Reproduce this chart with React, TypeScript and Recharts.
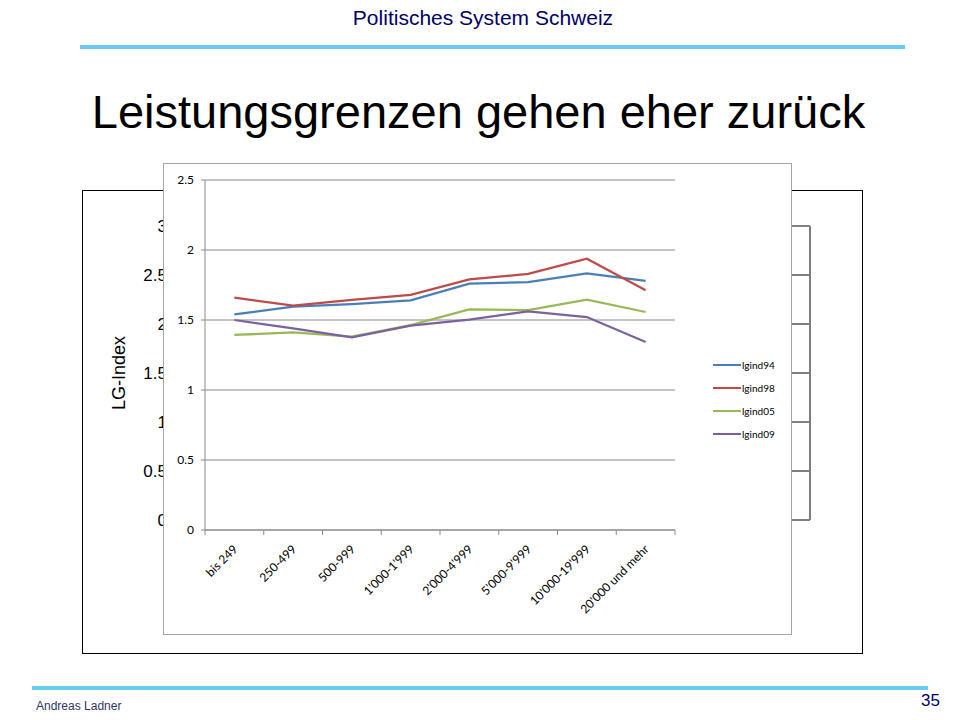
import React from 'react';
import { LineChart, Line, XAxis, YAxis, CartesianGrid } from 'recharts';

const categories = [
  'bis 249',
  '250-499',
  '500-999',
  "1'000-1'999",
  "2'000-4'999",
  "5'000-9'999",
  "10'000-19'999",
  "20'000 und mehr",
];

const lgind94 = [1.54, 1.595, 1.614, 1.64, 1.76, 1.77, 1.833, 1.78];
const lgind98 = [1.66, 1.602, 1.643, 1.679, 1.79, 1.829, 1.938, 1.712];
const lgind05 = [1.393, 1.412, 1.381, 1.464, 1.576, 1.571, 1.645, 1.557];
const lgind09 = [1.5, 1.44, 1.376, 1.46, 1.502, 1.562, 1.521, 1.343];

const innerTicks = [0, 0.5, 1, 1.5, 2, 2.5];
const backTicks = [0, 0.5, 1, 1.5, 2, 2.5, 3];

const series = [
  { key: 'lgind94', color: '#4a7ebb' },
  { key: 'lgind98', color: '#be4b48' },
  { key: 'lgind05', color: '#98b954' },
  { key: 'lgind09', color: '#7d60a0' },
];

const data = categories.map((category, idx) => ({
  idx,
  category,
  lgind94: lgind94[idx],
  lgind98: lgind98[idx],
  lgind05: lgind05[idx],
  lgind09: lgind09[idx],
}));

// tick marks between categories, labels at category centers
const xTicks = [-0.5, ...categories.flatMap((_, i) => [i, i + 0.5])];

const sans = '"Liberation Sans", Arial, sans-serif';
const chartFont = 'Lato, "Open Sans", sans-serif';
const grey = '#898989';

function CategoryTick(props: any) {
  const { x, y, payload } = props;
  const v = payload.value;
  if (!Number.isInteger(v)) {
    return <line x1={x} y1={y} x2={x} y2={y + 5} stroke={grey} strokeWidth={1} />;
  }
  const tx = x + 4;
  const ty = y + 20;
  return (
    <text
      x={tx}
      y={ty}
      transform={`rotate(-45, ${tx}, ${ty})`}
      textAnchor="end"
      fontSize={12}
      fontFamily={chartFont}
      fill="#000"
    >
      {categories[v]}
    </text>
  );
}

function BackLabel(props: any) {
  const vb = props.viewBox;
  const x = vb.x + 36;
  const y = vb.y + vb.height / 2;
  return (
    <text
      x={x}
      y={y}
      transform={`rotate(-90, ${x}, ${y})`}
      textAnchor="middle"
      dominantBaseline="central"
      fontSize={18}
      fontFamily={sans}
      fill="#000"
    >
      LG-Index
    </text>
  );
}

export default function App() {
  return (
    <div
      style={{
        position: 'absolute',
        left: 0,
        top: 0,
        width: 960,
        height: 720,
        background: '#fff',
        overflow: 'hidden',
        fontFamily: sans,
      }}
    >
      <div
        style={{
          position: 'absolute',
          left: 0,
          width: 966,
          top: 6,
          textAlign: 'center',
          fontSize: 21,
          color: '#000066',
        }}
      >
        Politisches System Schweiz
      </div>
      <div style={{ position: 'absolute', left: 80, top: 45, width: 825, height: 4, background: '#6ccaf0' }} />

      <div
        style={{
          position: 'absolute',
          left: 0,
          width: 957,
          top: 84,
          textAlign: 'center',
          fontSize: 47,
          color: '#000',
        }}
      >
        Leistungsgrenzen gehen eher zurück
      </div>

      {/* older chart behind */}
      <div
        style={{
          position: 'absolute',
          left: 82,
          top: 190,
          width: 781,
          height: 464,
          border: '1px solid #000',
          boxSizing: 'border-box',
        }}
      >
        <LineChart width={779} height={462} data={data} margin={{ top: 35, right: 51, left: 0, bottom: 133 }}>
          <CartesianGrid vertical={false} stroke="#000" />
          <XAxis dataKey="category" hide />
          <YAxis
            domain={[0, 3]}
            ticks={backTicks}
            width={97}
            axisLine={false}
            tickLine={false}
            tickSize={0}
            tickMargin={13}
            tick={{ fontSize: 17, fontFamily: sans, fill: '#000' }}
            label={{ content: BackLabel }}
          />
          <YAxis
            yAxisId="r"
            orientation="right"
            domain={[0, 3]}
            width={1}
            tick={false}
            tickLine={false}
            axisLine={{ stroke: '#7f7f7f', strokeWidth: 2 }}
          />
          <Line dataKey="lgind94" stroke="none" dot={false} isAnimationActive={false} />
        </LineChart>
      </div>

      {/* newer chart in front */}
      <div
        style={{
          position: 'absolute',
          left: 163,
          top: 163,
          width: 629,
          height: 472,
          border: '1px solid #a6a6a6',
          boxSizing: 'border-box',
          background: '#fff',
        }}
      >
        <LineChart width={627} height={470} data={data} margin={{ top: 16, right: 116, left: 0, bottom: 0 }}>
          <CartesianGrid vertical={false} stroke={grey} />
          <XAxis
            dataKey="idx"
            type="number"
            domain={[-0.5, 7.5]}
            ticks={xTicks}
            interval={0}
            height={104}
            tickSize={0}
            tickMargin={0}
            tickLine={false}
            axisLine={{ stroke: grey }}
            tick={<CategoryTick />}
          />
          <YAxis
            domain={[0, 2.5]}
            ticks={innerTicks}
            width={41}
            axisLine={{ stroke: grey }}
            tickLine={{ stroke: grey }}
            tickSize={4}
            tickMargin={7}
            tick={{ fontSize: 12, fontFamily: chartFont, fill: '#000' }}
          />
          {series.map((s) => (
            <Line
              key={s.key}
              type="linear"
              dataKey={s.key}
              stroke={s.color}
              strokeWidth={2.25}
              dot={false}
              isAnimationActive={false}
            />
          ))}
        </LineChart>
        <div style={{ position: 'absolute', left: 549, top: 189 }}>
          {series.map((s) => (
            <div key={s.key} style={{ display: 'flex', alignItems: 'center', height: 23 }}>
              <div style={{ width: 28, height: 2, background: s.color }} />
              <span style={{ fontSize: 10, fontFamily: chartFont, color: '#000', marginLeft: 1 }}>{s.key}</span>
            </div>
          ))}
        </div>
      </div>

      <div style={{ position: 'absolute', left: 32, top: 686, width: 896, height: 4, background: '#6ccaf0' }} />
      <div style={{ position: 'absolute', left: 36, top: 699, fontSize: 12, color: '#333366' }}>Andreas Ladner</div>
      <div style={{ position: 'absolute', left: 900, width: 40, top: 691, textAlign: 'right', fontSize: 17, color: '#000066' }}>35</div>
    </div>
  );
}
